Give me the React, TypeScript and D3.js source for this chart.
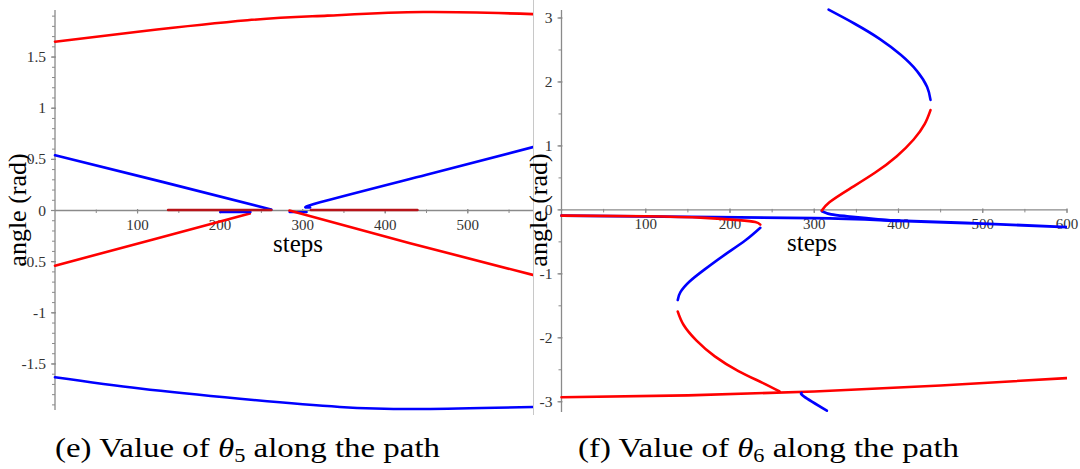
import React from "react";
import * as d3 from "d3";

type Pt = [number, number];

// ---- Panel (e): theta5 ----
const theta5RedTop: Pt[] = [[0, 1.65], [103, 1.75], [233, 1.86], [330, 1.905], [446, 1.94], [579, 1.92]];
const theta5BlueBottom: Pt[] = [[0, -1.63], [103, -1.74], [224, -1.84], [345, -1.92], [446, -1.94], [579, -1.92]];
const theta5BlueUpperLeft: Pt[] = [[0, 0.54], [130, 0.28], [262, 0.01]];
const theta5RedLowerLeft: Pt[] = [[0, -0.54], [120, -0.28], [236, -0.03]];
const theta5BlueShortA: Pt[] = [[200, -0.015], [237, -0.015]];
const theta5BlueShortB: Pt[] = [[284, -0.015], [305, -0.015]];
const theta5DarkRedA: Pt[] = [[137, 0.005], [262, 0.005]];
const theta5DarkRedB: Pt[] = [[310, 0.005], [439, 0.005]];
const theta5RedLowerRight: Pt[] = [[284, 0.0], [430, -0.32], [579, -0.63]];
const theta5BlueUpperRight: Pt[] = [[309, 0.03], [321, 0.08], [450, 0.35], [579, 0.62]];

// ---- Panel (f): theta6 ----
const theta6RedBottom: Pt[] = [[0, -2.93], [150, -2.9], [300, -2.84], [450, -2.745], [600, -2.63]];
const theta6BlueNearZero: Pt[] = [[0, -0.09], [150, -0.11], [300, -0.13], [400, -0.17], [500, -0.215], [600, -0.27]];
const theta6BlueHook: Pt[] = [[309, -0.02], [320, -0.07], [339, -0.1], [370, -0.14], [400, -0.17]];
const theta6RedNearZero: Pt[] = [[0, -0.09], [100, -0.1], [170, -0.125], [210, -0.16], [230, -0.19], [236, -0.23]];
const theta6BlueLowerS: Pt[] = [[236, -0.28], [218, -0.48], [194, -0.7], [170, -0.93], [152, -1.12], [141, -1.29], [138, -1.41]];
const theta6RedLowerS: Pt[] = [[138, -1.59], [145, -1.8], [160, -2.04], [182, -2.29], [210, -2.52], [238, -2.7], [259, -2.84]];
const theta6BlueBottomShort: Pt[] = [[285, -2.86], [288, -2.92], [315, -3.14]];
const theta6RedUpperS: Pt[] = [[309, -0.01], [318, 0.12], [342, 0.33], [372, 0.58], [398, 0.84], [418, 1.1], [431, 1.34], [438, 1.56]];
const theta6BlueUpperS: Pt[] = [[438, 1.72], [434, 1.92], [422, 2.17], [403, 2.42], [378, 2.67], [348, 2.91], [317, 3.13]];

// ticks
const leftXTicks = [100, 200, 300, 400, 500];
const leftYTickLabels = [-1.5, -1, -0.5, 0, 0.5, 1, 1.5];
const rightXTicks = [100, 200, 300, 400, 500, 600];
const rightYTickLabels = [-3, -2, -1, 0, 1, 2, 3];

const RED = "#ff0000";
const BLUE = "#0000ff";
const DARKRED = "#b8141a";
const AXIS = "#8a8a8a";
const FONT = "'Liberation Serif', 'Times New Roman', serif";

function Panel(props: {
  x: d3.ScaleLinear<number, number>;
  y: d3.ScaleLinear<number, number>;
  xTicks: number[];
  xMinor: number[];
  yTicks: number[];
  yMinor: number[];
  series: { data: Pt[]; color: string; w?: number }[];
  clipId: string;
  xEnd: number;
}) {
  const { x, y, xTicks, xMinor, yTicks, yMinor, series, clipId, xEnd } = props;
  const line = d3
    .line<Pt>()
    .x((d) => x(d[0]))
    .y((d) => y(d[1]))
    .curve(d3.curveNatural);
  const x0 = x(0);
  const y0 = y(0);
  const [yb, yt] = y.range();
  return (
    <g>
      <defs>
        <clipPath id={clipId}>
          <rect x={x0 - 2} y={0} width={xEnd - x0 + 2} height={420} />
        </clipPath>
      </defs>
      <line x1={x0} x2={xEnd} y1={y0} y2={y0} stroke={AXIS} strokeWidth={1.3} />
      {xMinor.map((t) => (
        <line key={"xm" + t} x1={x(t)} x2={x(t)} y1={y0 - 1} y2={y0 + 2.5} stroke={AXIS} strokeWidth={1} />
      ))}
      {xTicks.map((t) => (
        <g key={"xt" + t}>
          <line x1={x(t)} x2={x(t)} y1={y0 - 1.5} y2={y0 + 3} stroke={AXIS} strokeWidth={1.2} />
          <text x={x(t)} y={y0 + 19} textAnchor="middle" fontFamily={FONT} fontSize={15} fill="#333">
            {t}
          </text>
        </g>
      ))}
      <line x1={x0} x2={x0} y1={yb} y2={yt} stroke={AXIS} strokeWidth={1.3} />
      {yMinor.map((t) => (
        <line key={"ym" + t} x1={x0 - 3} x2={x0} y1={y(t)} y2={y(t)} stroke={AXIS} strokeWidth={1} />
      ))}
      {yTicks.map((t) => (
        <g key={"yt" + t}>
          <line x1={x0 - 4} x2={x0 + 1} y1={y(t)} y2={y(t)} stroke={AXIS} strokeWidth={1.2} />
          <text x={x0 - 9} y={y(t) + 5} textAnchor="end" fontFamily={FONT} fontSize={15.5} fill="#333">
            {String(t)}
          </text>
        </g>
      ))}
      <g clipPath={`url(#${clipId})`}>
        {series.map((s, i) => (
          <path key={i} d={line(s.data) || ""} fill="none" stroke={s.color} strokeWidth={s.w ?? 2.6} strokeLinecap="round" strokeLinejoin="round" />
        ))}
      </g>
    </g>
  );
}

export default function App() {
  const W = 1080;
  const H = 469;

  const xL = d3.scaleLinear().domain([0, 579]).range([55, 533]);
  const yL = d3.scaleLinear().domain([-1.95, 1.96]).range([410, 10]);
  const xR = d3.scaleLinear().domain([0, 600]).range([561.5, 1067]);
  const yR = d3.scaleLinear().domain([-3.16, 3.125]).range([412, 10]);

  const leftXMinor = d3.range(50, 579, 50);
  const leftYMinor = d3.range(-19, 20).map((v) => v / 10);
  const rightXMinor = d3.range(50, 601, 50);
  const rightYMinor = d3.range(-6, 7).map((v) => v / 2);

  return (
    <svg width={W} height={H} style={{ position: "absolute", left: 0, top: 0, background: "#fff" }}>
      <rect width={W} height={H} fill="#fff" />
      <line x1={533.5} x2={533.5} y1={0} y2={415} stroke="#c8c8c8" strokeWidth={1} />

      <Panel
        x={xL}
        y={yL}
        xTicks={leftXTicks}
        xMinor={leftXMinor}
        yTicks={leftYTickLabels}
        yMinor={leftYMinor}
        clipId="clipL"
        xEnd={533}
        series={[
          { data: theta5RedTop, color: RED },
          { data: theta5BlueBottom, color: BLUE },
          { data: theta5BlueUpperLeft, color: BLUE },
          { data: theta5RedLowerLeft, color: RED },
          { data: theta5BlueShortA, color: BLUE, w: 2.2 },
          { data: theta5BlueShortB, color: BLUE, w: 2.2 },
          { data: theta5DarkRedA, color: DARKRED },
          { data: theta5DarkRedB, color: DARKRED },
          { data: theta5RedLowerRight, color: RED },
          { data: theta5BlueUpperRight, color: BLUE },
        ]}
      />
      <text x={298} y={252} textAnchor="middle" fontFamily={FONT} fontSize={25} fill="#000">
        steps
      </text>
      <text transform="translate(26,210) rotate(-90)" textAnchor="middle" fontFamily={FONT} fontSize={26} fill="#000">
        angle (rad)
      </text>

      <Panel
        x={xR}
        y={yR}
        xTicks={rightXTicks}
        xMinor={rightXMinor}
        yTicks={rightYTickLabels}
        yMinor={rightYMinor}
        clipId="clipR"
        xEnd={1067}
        series={[
          { data: theta6RedBottom, color: RED },
          { data: theta6BlueNearZero, color: BLUE, w: 2.8 },
          { data: theta6RedNearZero, color: RED },
          { data: theta6BlueHook, color: BLUE, w: 2.8 },
          { data: theta6BlueLowerS, color: BLUE },
          { data: theta6RedLowerS, color: RED },
          { data: theta6BlueBottomShort, color: BLUE },
          { data: theta6RedUpperS, color: RED },
          { data: theta6BlueUpperS, color: BLUE },
        ]}
      />
      <text x={812} y={251} textAnchor="middle" fontFamily={FONT} fontSize={25} fill="#000">
        steps
      </text>
      <text transform="translate(547,210) rotate(-90)" textAnchor="middle" fontFamily={FONT} fontSize={26} fill="#000">
        angle (rad)
      </text>

      <text x={55} y={457} fontFamily={FONT} fontSize={28} fill="#000" textLength={385} lengthAdjust="spacingAndGlyphs">
        (e) Value of <tspan fontStyle="italic">θ</tspan>
        <tspan fontSize={19} dy={5}>5</tspan>
        <tspan dy={-5}> along the path</tspan>
      </text>
      <text x={578} y={457} fontFamily={FONT} fontSize={28} fill="#000" textLength={381} lengthAdjust="spacingAndGlyphs">
        (f) Value of <tspan fontStyle="italic">θ</tspan>
        <tspan fontSize={19} dy={5}>6</tspan>
        <tspan dy={-5}> along the path</tspan>
      </text>
    </svg>
  );
}
